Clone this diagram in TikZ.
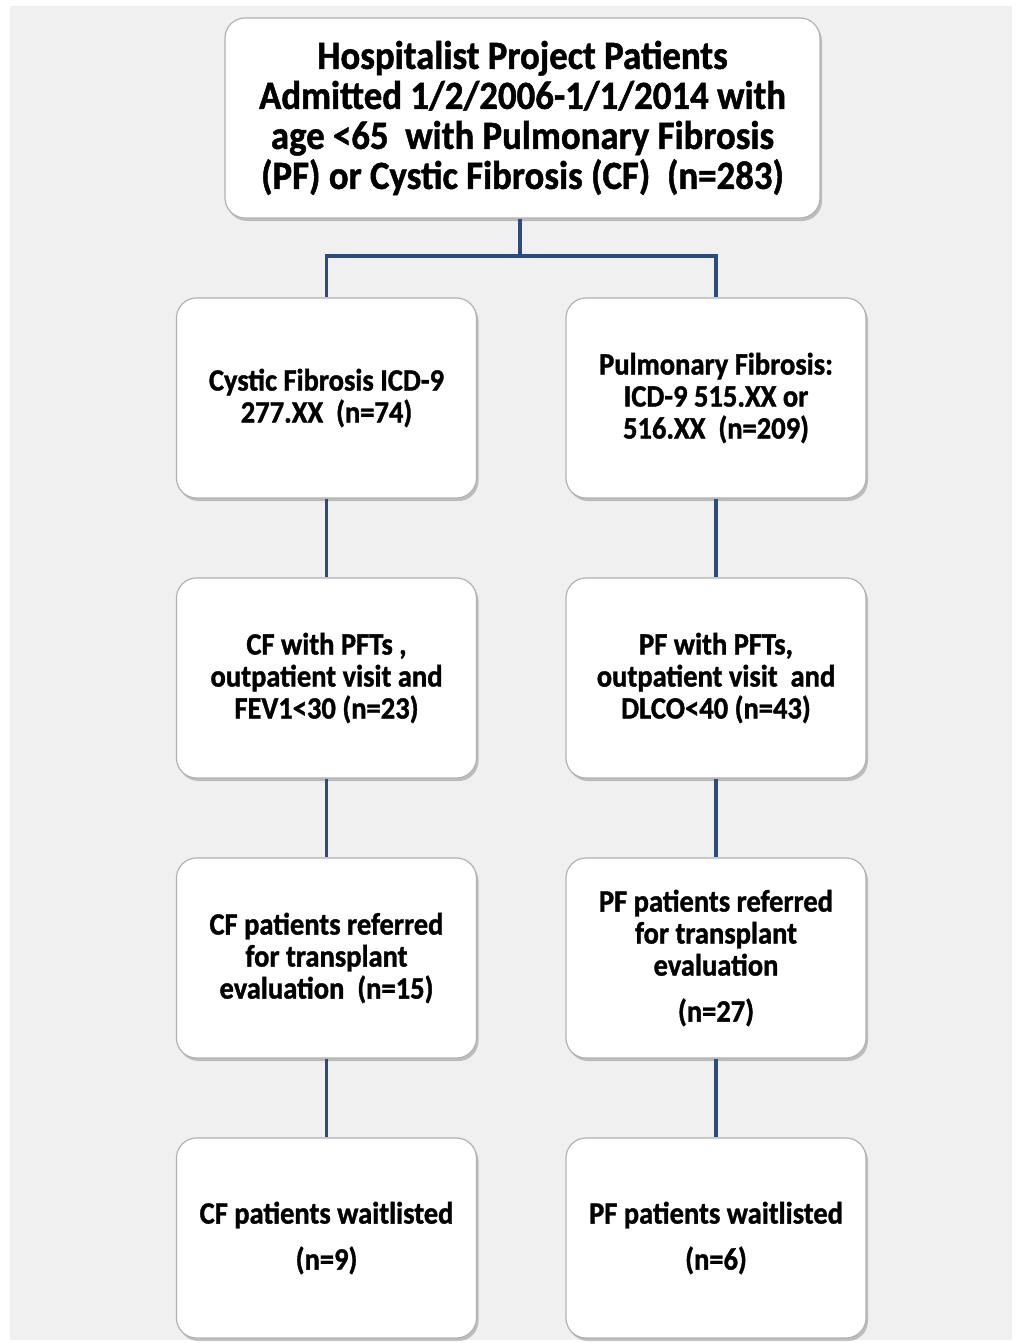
\documentclass[tikz,border=0pt]{standalone}
\usepackage{fontspec}
\setmainfont{Carlito}
\newfontfamily\boxfont[FakeStretch=0.92,FakeBold=1.2]{Carlito Bold}
\usetikzlibrary{shadows}
\definecolor{linkblue}{HTML}{2B4C7E}
\definecolor{panelgrey}{HTML}{F0F0F0}
\tikzset{
  flowbox/.style={draw=black!30, line width=0.6pt, fill=white, rounded corners=10pt,
    minimum width=150pt, minimum height=100pt, align=center, inner sep=2pt,
    font=\boxfont\fontsize{15.5}{16}\selectfont,
    drop shadow={shadow xshift=1pt, shadow yshift=-1.5pt, fill=black!45, opacity=0.5}},
  topbox/.style={flowbox, minimum width=297.5pt, font=\boxfont\fontsize{20}{20}\selectfont},
  link/.style={draw=linkblue, line width=1.6pt}
}
\begin{document}
\begin{tikzpicture}[x=0.5pt,y=-0.5pt]
\useasboundingbox (0,0) rectangle (1019,1343);
\fill[panelgrey] (10,6) rectangle (1012,1340);
% top box
\node[topbox] (all) at (522.5,118) {Hospitalist Project Patients\\Admitted 1/2/2006-1/1/2014 with\\age <65\ \ with Pulmonary Fibrosis\\(PF) or Cystic Fibrosis (CF)\ \ (n=283)};
% cystic fibrosis column
\node[flowbox] (cf1) at (326.5,398) {Cystic Fibrosis ICD-9\\277.XX\ \ (n=74)};
\node[flowbox] (cf2) at (326.5,678) {CF with PFTs ,\\outpatient visit and\\FEV1<30 (n=23)};
\node[flowbox] (cf3) at (326.5,958) {CF patients referred\\for transplant\\evaluation\ \ (n=15)};
\node[flowbox] (cf4) at (326.5,1238) {CF patients waitlisted\\[7pt](n=9)};
% pulmonary fibrosis column
\node[flowbox] (pf1) at (716,398) {Pulmonary Fibrosis:\\ICD-9 515.XX or\\516.XX\ \ (n=209)};
\node[flowbox] (pf2) at (716,678) {PF with PFTs,\\outpatient visit\ \ and\\DLCO<40 (n=43)};
\node[flowbox] (pf3) at (716,958) {PF patients referred\\for transplant\\evaluation\\[7pt](n=27)};
\node[flowbox] (pf4) at (716,1238) {PF patients waitlisted\\[7pt](n=6)};
% connectors
\coordinate (split) at (520,256);
\draw[link] (all.south -| split) -- (split);
\draw[link] (cf1.north) |- (split) -| (pf1.north);
\draw[link] (cf1) -- (cf2);
\draw[link] (cf2) -- (cf3);
\draw[link] (cf3) -- (cf4);
\draw[link] (pf1) -- (pf2);
\draw[link] (pf2) -- (pf3);
\draw[link] (pf3) -- (pf4);
\end{tikzpicture}
\end{document}
